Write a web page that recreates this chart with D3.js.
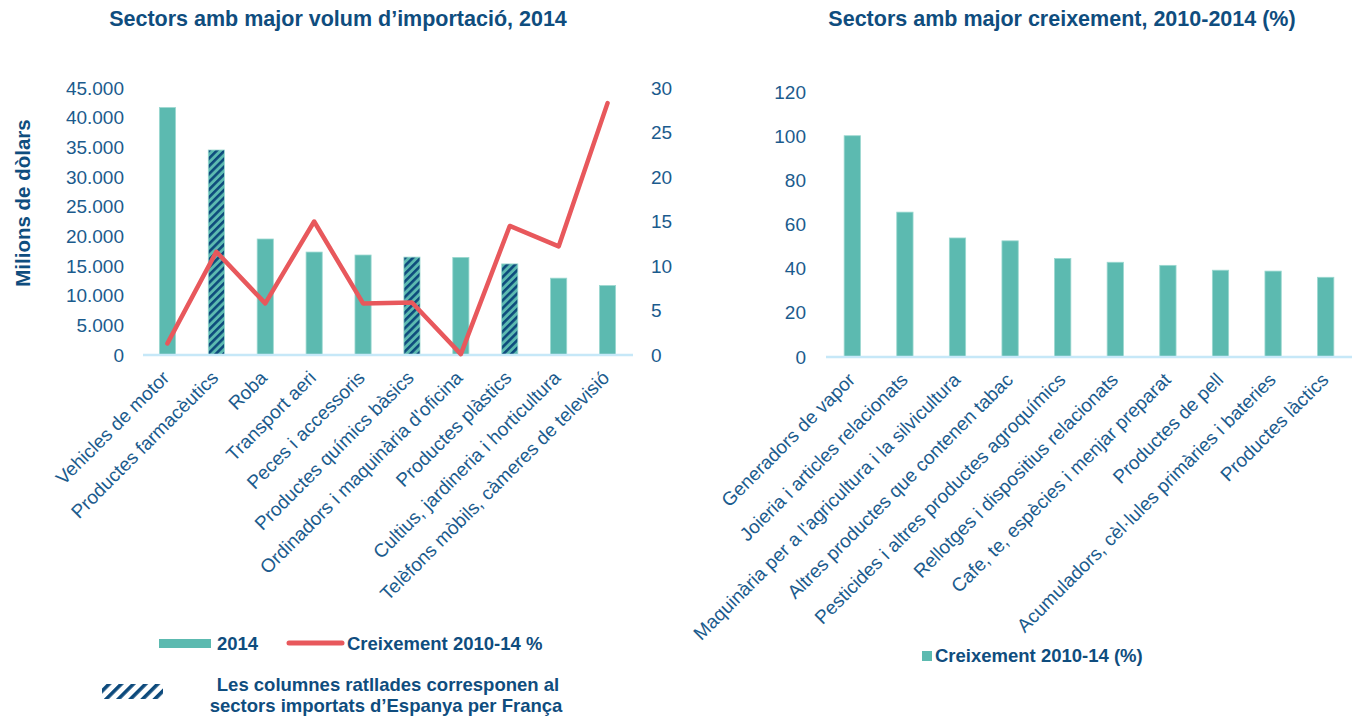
<!DOCTYPE html>
<html>
<head>
<meta charset="utf-8">
<script src="https://cdn.jsdelivr.net/npm/d3@7"></script>
<style>
    body { margin: 0; background: #fff; }
    text { font-family: "Liberation Sans", Arial, sans-serif; }
</style>
</head>
<body>
<div id="chart"></div>
<script>

// data left chart: imports 2014 (milions de dòlars) + growth 2010-14 (%)
const sectorsImport = ["Vehicles de motor", "Productes farmacèutics", "Roba", "Transport aeri",
    "Peces i accessoris", "Productes químics bàsics", "Ordinadors i maquinària d'oficina",
    "Productes plàstics", "Cultius, jardineria i horticultura", "Telèfons mòbils,  càmeres de televisió"];
const import2014 = [41700, 34550, 19550, 17350, 16850, 16500, 16450, 15350, 12950, 11700];
const growthImport = [1.3, 11.6, 5.8, 15.0, 5.8, 5.9, 0.1, 14.5, 12.2, 28.3];
const hatchedSectors = ["Productes farmacèutics", "Productes químics bàsics", "Productes plàstics"];
const leftTicks = [0, 5000, 10000, 15000, 20000, 25000, 30000, 35000, 40000, 45000];
const rightTicks = [0, 5, 10, 15, 20, 25, 30];

// data right chart: sectors with highest growth 2010-2014 (%)
const sectorsGrowth = ["Generadors de vapor", "Joieria i articles relacionats",
    "Maquinària per a l'agricultura i la silvicultura", "Altres productes que contenen tabac",
    "Pesticides i altres productes agroquímics", "Rellotges i dispositius relacionats",
    "Cafe, te, espècies i menjar preparat", "Productes de pell",
    "Acumuladors, cèl·lules primàries i bateries", "Productes làctics"];
const growthTop = [100.2, 65.6, 53.9, 52.6, 44.6, 42.9, 41.5, 39.3, 38.9, 36.1];
const growthTicks = [0, 20, 40, 60, 80, 100, 120];

const teal = "#5cbab0", red = "#e8585c", navy = "#0f4d7e", tickCol = "#1b5b8d", axisCol = "#c6e8f8";

const svg = d3.select("#chart")
    .append("svg")
    .attr("width", 1357)
    .attr("height", 718);

// hatch patterns
const defs = svg.append("defs");
const hatch = defs.append("pattern")
    .attr("id", "hatch")
    .attr("patternUnits", "userSpaceOnUse")
    .attr("width", 5.5).attr("height", 5.5)
    .attr("patternTransform", "rotate(45)");
hatch.append("rect").attr("width", 5.5).attr("height", 5.5).attr("fill", teal);
hatch.append("rect").attr("width", 2.6).attr("height", 5.5).attr("fill", "#0d4a7c");

const hatchLeg = defs.append("pattern")
    .attr("id", "hatchLeg")
    .attr("patternUnits", "userSpaceOnUse")
    .attr("width", 8.6).attr("height", 8.6)
    .attr("patternTransform", "rotate(45)");
hatchLeg.append("rect").attr("width", 3.6).attr("height", 8.6).attr("fill", "#0d4a7c");

const fmt = d3.formatLocale({ decimal: ",", thousands: ".", grouping: [3], currency: ["", "€"] }).format(",d");

// ---------------- LEFT CHART ----------------
const x1 = d3.scaleBand()
    .domain(sectorsImport)
    .range([143, 632])
    .paddingInner(0.67)
    .paddingOuter(0.335);

const y1 = d3.scaleLinear().domain([0, 45000]).range([355, 88]);
const y1r = d3.scaleLinear().domain([0, 30]).range([355, 88]);

svg.append("text")
    .attr("x", 338).attr("y", 26)
    .attr("text-anchor", "middle")
    .attr("font-weight", "bold")
    .attr("font-size", "21.5px")
    .attr("fill", navy)
    .text("Sectors amb major volum d’importació, 2014");

svg.append("text")
    .attr("transform", "translate(30,203) rotate(-90)")
    .attr("text-anchor", "middle")
    .attr("font-weight", "bold")
    .attr("font-size", "20.5px")
    .attr("fill", navy)
    .text("Milions de dòlars");

// left axis
const axL = svg.append("g")
    .attr("transform", "translate(124,0)")
    .call(d3.axisLeft(y1).tickValues(leftTicks).tickFormat(fmt).tickSize(0).tickPadding(0));
axL.select(".domain").remove();
axL.selectAll("text").attr("font-size", "19px").attr("fill", tickCol).attr("font-family", "Liberation Sans, Arial, sans-serif");

// right axis
const axR = svg.append("g")
    .attr("transform", "translate(651,0)")
    .call(d3.axisRight(y1r).tickValues(rightTicks).tickSize(0).tickPadding(0));
axR.select(".domain").remove();
axR.selectAll("text").attr("font-size", "19px").attr("fill", tickCol).attr("font-family", "Liberation Sans, Arial, sans-serif");

// bars
svg.append("g")
    .selectAll("rect")
    .data(sectorsImport)
    .join("rect")
    .attr("x", d => x1(d))
    .attr("y", (d, i) => y1(import2014[i]))
    .attr("width", x1.bandwidth())
    .attr("height", (d, i) => y1(0) - y1(import2014[i]))
    .attr("fill", d => hatchedSectors.includes(d) ? "url(#hatch)" : teal)
    .attr("stroke", "#9bd8d0")
    .attr("stroke-width", 0.8);

// baseline
svg.append("line")
    .attr("x1", 143).attr("x2", 633)
    .attr("y1", y1(0)).attr("y2", y1(0))
    .attr("stroke", axisCol).attr("stroke-width", 2.5);

// line growth
const line1 = d3.line()
    .x((d, i) => x1(sectorsImport[i]) + x1.bandwidth() / 2)
    .y(d => y1r(d));

svg.append("path")
    .datum(growthImport)
    .attr("d", line1)
    .attr("fill", "none")
    .attr("stroke", red)
    .attr("stroke-width", 4.5)
    .attr("stroke-linejoin", "round")
    .attr("stroke-linecap", "round");

// category labels
svg.append("g")
    .selectAll("text")
    .data(sectorsImport)
    .join("text")
    .attr("transform", d => `translate(${x1(d) + x1.bandwidth() / 2 + 3},${y1(0) + 24}) rotate(-45)`)
    .attr("text-anchor", "end")
    .attr("font-size", "19px")
    .attr("fill", tickCol)
    .text(d => d);

// legend left
svg.append("rect").attr("x", 159).attr("y", 639).attr("width", 52).attr("height", 9).attr("fill", teal);
svg.append("text").attr("x", 217).attr("y", 650)
    .attr("font-weight", "bold").attr("font-size", "18.5px").attr("fill", navy).text("2014");
svg.append("line").attr("x1", 289).attr("x2", 342).attr("y1", 643).attr("y2", 643)
    .attr("stroke", red).attr("stroke-width", 5).attr("stroke-linecap", "round");
svg.append("text").attr("x", 347).attr("y", 650)
    .attr("font-weight", "bold").attr("font-size", "18.5px").attr("fill", navy).text("Creixement 2010-14 %");

svg.append("rect").attr("x", 102).attr("y", 684).attr("width", 61).attr("height", 15).attr("fill", "url(#hatchLeg)");
svg.append("text").attr("x", 388).attr("y", 691)
    .attr("text-anchor", "middle")
    .attr("font-weight", "bold").attr("font-size", "18.5px").attr("fill", navy)
    .text("Les columnes ratllades corresponen al");
svg.append("text").attr("x", 386).attr("y", 712)
    .attr("text-anchor", "middle")
    .attr("font-weight", "bold").attr("font-size", "18.5px").attr("fill", navy)
    .text("sectors importats d’Espanya per França");

// ---------------- RIGHT CHART ----------------
const x2 = d3.scaleBand()
    .domain(sectorsGrowth)
    .range([826, 1352])
    .paddingInner(0.69)
    .paddingOuter(0.345);

const y2 = d3.scaleLinear().domain([0, 120]).range([357, 92]);

svg.append("text")
    .attr("x", 1062).attr("y", 26)
    .attr("text-anchor", "middle")
    .attr("font-weight", "bold")
    .attr("font-size", "21.5px")
    .attr("fill", navy)
    .text("Sectors amb major creixement, 2010-2014 (%)");

const ax2 = svg.append("g")
    .attr("transform", "translate(806,0)")
    .call(d3.axisLeft(y2).tickValues(growthTicks).tickSize(0).tickPadding(0));
ax2.select(".domain").remove();
ax2.selectAll("text").attr("font-size", "19px").attr("fill", tickCol).attr("font-family", "Liberation Sans, Arial, sans-serif");

svg.append("g")
    .selectAll("rect")
    .data(sectorsGrowth)
    .join("rect")
    .attr("x", d => x2(d))
    .attr("y", (d, i) => y2(growthTop[i]))
    .attr("width", x2.bandwidth())
    .attr("height", (d, i) => y2(0) - y2(growthTop[i]))
    .attr("fill", teal)
    .attr("stroke", "#9bd8d0")
    .attr("stroke-width", 0.8);

svg.append("line")
    .attr("x1", 826).attr("x2", 1352)
    .attr("y1", y2(0)).attr("y2", y2(0))
    .attr("stroke", axisCol).attr("stroke-width", 2.5);

svg.append("g")
    .selectAll("text")
    .data(sectorsGrowth)
    .join("text")
    .attr("transform", d => `translate(${x2(d) + x2.bandwidth() / 2 + 4},${y2(0) + 24}) rotate(-45)`)
    .attr("text-anchor", "end")
    .attr("font-size", "19px")
    .attr("fill", tickCol)
    .text(d => d);

// legend right
svg.append("rect").attr("x", 922).attr("y", 651).attr("width", 10).attr("height", 10).attr("fill", teal);
svg.append("text").attr("x", 935).attr("y", 662)
    .attr("font-weight", "bold").attr("font-size", "18.5px").attr("fill", navy).text("Creixement 2010-14 (%)");

</script>
</body>
</html>
